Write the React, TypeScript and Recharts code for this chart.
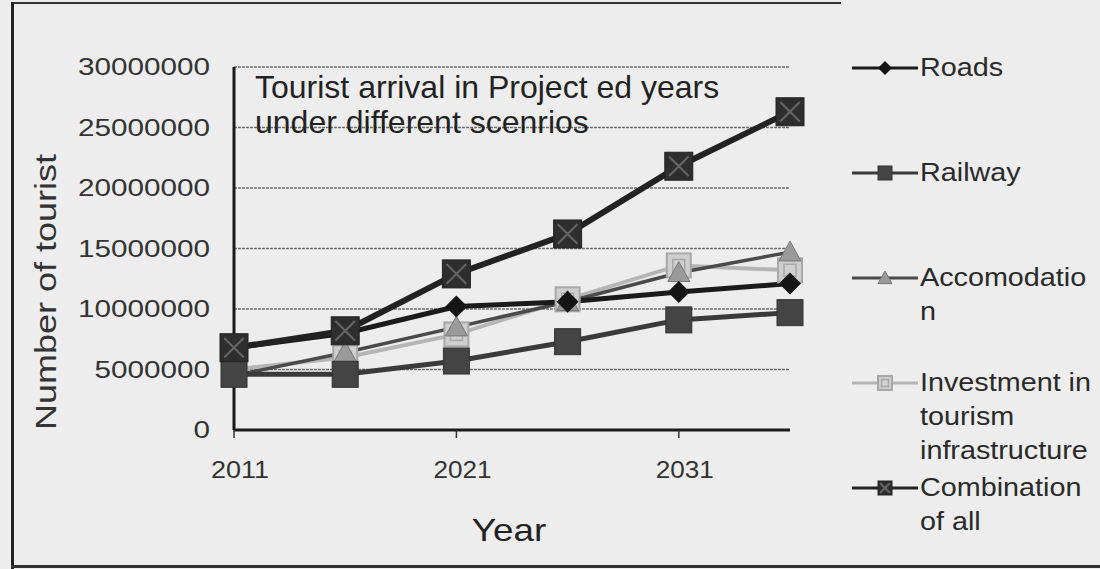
import React from 'react';
import { LineChart, Line, XAxis, YAxis, CartesianGrid } from 'recharts';

const years = ['2011', '2016', '2021', '2026', '2031', '2036'];
const roads = [6800000, 8000000, 10200000, 10600000, 11400000, 12100000];
const railway = [4600000, 4600000, 5700000, 7300000, 9100000, 9700000];
const accomodation = [4500000, 6400000, 8500000, 10600000, 13000000, 14700000];
const investment = [5000000, 6000000, 7900000, 10800000, 13600000, 13200000];
const combination = [6800000, 8200000, 12900000, 16200000, 21800000, 26300000];

const seriesKeys = ['roads', 'railway', 'accomodation', 'investment', 'combination'];
const seriesNames = ['Roads', 'Railway', 'Accomodation', 'Investment in tourism infrastructure', 'Combination of all'];
const legendLines = [['Roads'], ['Railway'], ['Accomodatio', 'n'], ['Investment in', 'tourism', 'infrastructure'], ['Combination', 'of all']];
const yTicks = [0, 5000000, 10000000, 15000000, 20000000, 25000000, 30000000];

const data = years.map((y, i) => ({
  year: y,
  roads: roads[i],
  railway: railway[i],
  accomodation: accomodation[i],
  investment: investment[i],
  combination: combination[i],
}));

const FONT = '"Liberation Sans", Arial, sans-serif';

type Kind = 'diamond' | 'square' | 'triangle' | 'open' | 'cross';
const kinds: Kind[] = ['diamond', 'square', 'triangle', 'open', 'cross'];
const lineColors = ['#1a1a1a', '#3a3a3a', '#4a4a4a', '#b5b5b5', '#222222'];
const lineWidths = [5, 5, 3.5, 4, 6];
const markerSizes = [11, 13, 11, 12, 14];

function Marker({ kind, cx, cy, s }: { kind: Kind; cx: number; cy: number; s: number }) {
  if (cx == null || cy == null) return <g />;
  if (kind === 'diamond') {
    return <polygon points={`${cx},${cy - s} ${cx + s},${cy} ${cx},${cy + s} ${cx - s},${cy}`} fill="#151515" />;
  }
  if (kind === 'square') {
    return <rect x={cx - s} y={cy - s} width={2 * s} height={2 * s} fill="#444" stroke="#333" strokeWidth={1} />;
  }
  if (kind === 'triangle') {
    return <polygon points={`${cx},${cy - s} ${cx + s},${cy + s * 0.8} ${cx - s},${cy + s * 0.8}`} fill="#9a9a9a" stroke="#777" strokeWidth={1} />;
  }
  if (kind === 'open') {
    return (
      <g>
        <rect x={cx - s} y={cy - s} width={2 * s} height={2 * s} fill="#cfcfcf" stroke="#a8a8a8" strokeWidth={2} />
        <rect x={cx - s / 2} y={cy - s / 2} width={s} height={s} fill="none" stroke="#a8a8a8" strokeWidth={1.5} />
      </g>
    );
  }
  return (
    <g>
      <rect x={cx - s} y={cy - s} width={2 * s} height={2 * s} fill="#2e2e2e" stroke="#222" strokeWidth={1} />
      <line x1={cx - s * 0.7} y1={cy - s * 0.7} x2={cx + s * 0.7} y2={cy + s * 0.7} stroke="#666" strokeWidth={2} />
      <line x1={cx + s * 0.7} y1={cy - s * 0.7} x2={cx - s * 0.7} y2={cy + s * 0.7} stroke="#666" strokeWidth={2} />
    </g>
  );
}

const YTick = (props: any) => {
  const { x, y, payload } = props;
  const s = String(payload.value);
  return (
    <text x={x} y={y} dy="0.36em" textAnchor="end" fontSize={23} fill="#333" fontFamily={FONT}
      textLength={s.length * 16.5} lengthAdjust="spacingAndGlyphs">{s}</text>
  );
};

const XTick = (props: any) => {
  const { x, y, payload } = props;
  const s = String(payload.value);
  return (
    <text x={x + 6} y={y + 38} textAnchor="middle" fontSize={23} fill="#333" fontFamily={FONT}
      textLength={s.length * 14.5} lengthAdjust="spacingAndGlyphs">{s}</text>
  );
};

const LegendBlock = () => (
  <div style={{ position: 'absolute', left: 850, top: 50, width: 250, fontFamily: FONT, color: '#2a2a2a' }}>
    {seriesKeys.map((k, i) => (
      <div key={k} title={seriesNames[i]} style={{ position: 'relative', height: 105 }}>
        <svg width={70} height={36} style={{ position: 'absolute', left: 0, top: 0 }}>
          <line x1={2} y1={18} x2={68} y2={18} stroke={lineColors[i]} strokeWidth={3} />
          <Marker kind={kinds[i]} cx={35} cy={18} s={7} />
        </svg>
        <div style={{ position: 'absolute', left: 70, top: 0, fontSize: 25, lineHeight: '34px', transform: 'scaleX(1.15)', transformOrigin: 'left top', whiteSpace: 'nowrap' }}>
          {legendLines[i].map((l, j) => (<div key={j}>{l}</div>))}
        </div>
      </div>
    ))}
  </div>
);

export default function App() {
  return (
    <div style={{ position: 'fixed', left: 0, top: 0, width: 1100, height: 569, background: '#ededed', overflow: 'hidden', fontFamily: FONT }}>
      <div style={{ position: 'absolute', left: 11, top: 2, width: 830, height: 0, borderTop: '2px solid #333' }} />
      <div style={{ position: 'absolute', left: 11, top: 2, width: 0, height: 567, borderLeft: '3px solid #222' }} />
      <div style={{ position: 'absolute', left: 11, top: 565, width: 1089, height: 0, borderTop: '3px solid #333' }} />
      <div style={{ position: 'absolute', left: 0, top: 0 }}>
        <LineChart width={1100} height={569} data={data} margin={{ top: 67, right: 310, bottom: 79, left: 0 }}>
          <CartesianGrid horizontal vertical={false} stroke="#6e6e6e" strokeDasharray="3 1" strokeWidth={1.5} />
          <XAxis dataKey="year" interval={1} tick={<XTick />} tickSize={8} height={60}
            axisLine={{ stroke: '#1a1a1a', strokeWidth: 3 }} tickLine={{ stroke: '#333', strokeWidth: 1.5 }} />
          <YAxis domain={[0, 30000000]} ticks={yTicks} width={234} tick={<YTick />} tickSize={0} tickMargin={24}
            axisLine={{ stroke: '#1a1a1a', strokeWidth: 3 }} tickLine={false} />
          {[3, 2, 1, 0, 4].map((i) => (
            <Line key={seriesKeys[i]} type="linear" dataKey={seriesKeys[i]} name={seriesNames[i]}
              stroke={lineColors[i]} strokeWidth={lineWidths[i]} isAnimationActive={false}
              dot={(p: any) => <Marker key={`${seriesKeys[i]}-${p.index}`} kind={kinds[i]} cx={p.cx} cy={p.cy} s={markerSizes[i]} />} />
          ))}
        </LineChart>
      </div>
      <LegendBlock />
      <div style={{ position: 'absolute', left: 255, top: 70, fontSize: 32, lineHeight: '35px', color: '#222', whiteSpace: 'nowrap' }}>
        <div>Tourist arrival in Project ed years</div>
        <div>under different scenrios</div>
      </div>
      <div style={{ position: 'absolute', left: 46, top: 292, width: 0, height: 0 }}>
        <div style={{ position: 'absolute', left: 0, top: 0, fontSize: 30, color: '#333', whiteSpace: 'nowrap', transform: 'translate(-50%,-50%) rotate(-90deg) scaleX(1.2)' }}>Number of tourist</div>
      </div>
      <div style={{ position: 'absolute', left: 509, top: 530, width: 0, height: 0 }}>
        <div style={{ position: 'absolute', left: 0, top: 0, fontSize: 32, color: '#222', whiteSpace: 'nowrap', transform: 'translate(-50%,-50%) scaleX(1.15)' }}>Year</div>
      </div>
    </div>
  );
}
